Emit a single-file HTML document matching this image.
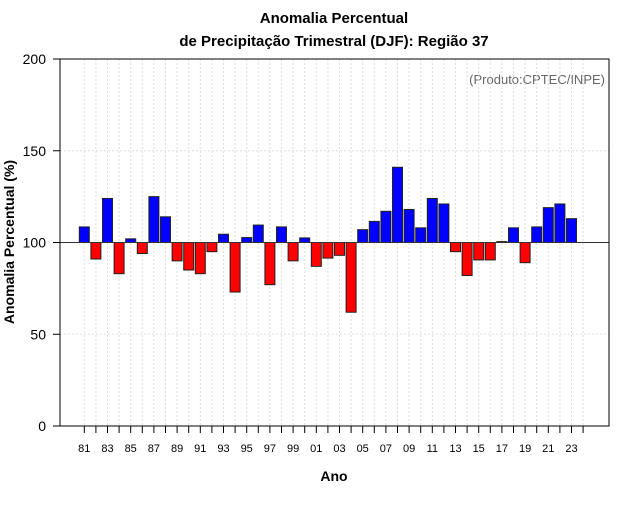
<!DOCTYPE html>
<html><head><meta charset="utf-8"><style>
body{margin:0;background:#fff;width:640px;height:500px;overflow:hidden}
text{font-family:"Liberation Sans",sans-serif}
</style></head><body>
<svg width="640" height="500" id="chart">
<text x="334" y="23" text-anchor="middle" font-size="15" font-weight="bold">Anomalia Percentual</text>
<text x="334" y="46" text-anchor="middle" font-size="15" font-weight="bold">de Precipitação Trimestral (DJF): Região 37</text>
<text x="605" y="84" text-anchor="end" font-size="13" fill="#666">(Produto:CPTEC/INPE)</text>
<text x="334" y="481" text-anchor="middle" font-size="14" font-weight="bold">Ano</text>
<text transform="translate(14,242) rotate(-90)" text-anchor="middle" font-size="14" font-weight="bold">Anomalia Percentual (%)</text>
<g id="grid"></g><g id="bars"></g><g id="axes"></g>
<rect x="60" y="59" width="549" height="367" fill="none" stroke="#000"/>
</svg>
<script>
const years=[1981,1982,1983,1984,1985,1986,1987,1988,1989,1990,1991,1992,1993,1994,1995,1996,1997,1998,1999,2000,2001,2002,2003,2004,2005,2006,2007,2008,2009,2010,2011,2012,2013,2014,2015,2016,2017,2018,2019,2020,2021,2022,2023];
const values=[108.5,91,124,83,102,94,125,114,90,85,83,95,104.5,73,102.7,109.5,77,108.5,90,102.5,87,91.5,93,62,107,111.5,117,141,118,108,124,121,95,82,90.5,90.5,100.5,108,89,108.5,119,121,113];
const yTicks=[0,50,100,150,200];
const NS='http://www.w3.org/2000/svg';
const x=y=>84.3+(y-1981)*11.6;
const yy=v=>426-v*367/200;
function mk(tag,a,p){const e=document.createElementNS(NS,tag);for(const k in a)e.setAttribute(k,a[k]);p.appendChild(e);return e;}
const grid=document.getElementById('grid'),bars=document.getElementById('bars'),axes=document.getElementById('axes');
yTicks.forEach(t=>{
 if(t>0&&t<200&&t!==100){const g=mk('line',{x1:60,x2:609,y1:yy(t),y2:yy(t),stroke:'#ddd','stroke-dasharray':'2,2'},grid);
 
 }
 const tk=mk('line',{x1:53,x2:60,y1:yy(t),y2:yy(t),stroke:'#000'},axes);
 
 
 const lb=mk('text',{x:46,y:yy(t)+5,'text-anchor':'end','font-size':14},axes);lb.textContent=t;
 
 
});
for(let yr=1981;yr<=2024;yr++){
 const g=mk('line',{x1:x(yr),x2:x(yr),y1:59,y2:426,stroke:'#ddd','stroke-dasharray':'2,2'},grid);
 
 
 const tk=mk('line',{x1:x(yr),x2:x(yr),y1:426,y2:433,stroke:'#000'},axes);
 
 
 if((yr-1981)%2===0&&yr<=2023){const lb=mk('text',{x:x(yr),y:452,'text-anchor':'middle','font-size':11},axes);lb.textContent=String(yr%100).padStart(2,'0');
 
 }
}
years.forEach((yr,i)=>{
 const v=values[i],t=yy(Math.max(v,100)),b=yy(Math.min(v,100));
 const r=mk('rect',{x:x(yr)-5,y:t,width:10,height:Math.max(b-t,0.5),fill:v>=100?'#0000ff':'#ff0000',stroke:'#222','stroke-width':1},bars);
 
 
});
const ref=mk('line',{x1:60,x2:609,y1:yy(100),y2:yy(100),stroke:'#333'},bars);


</script>
</body></html>
